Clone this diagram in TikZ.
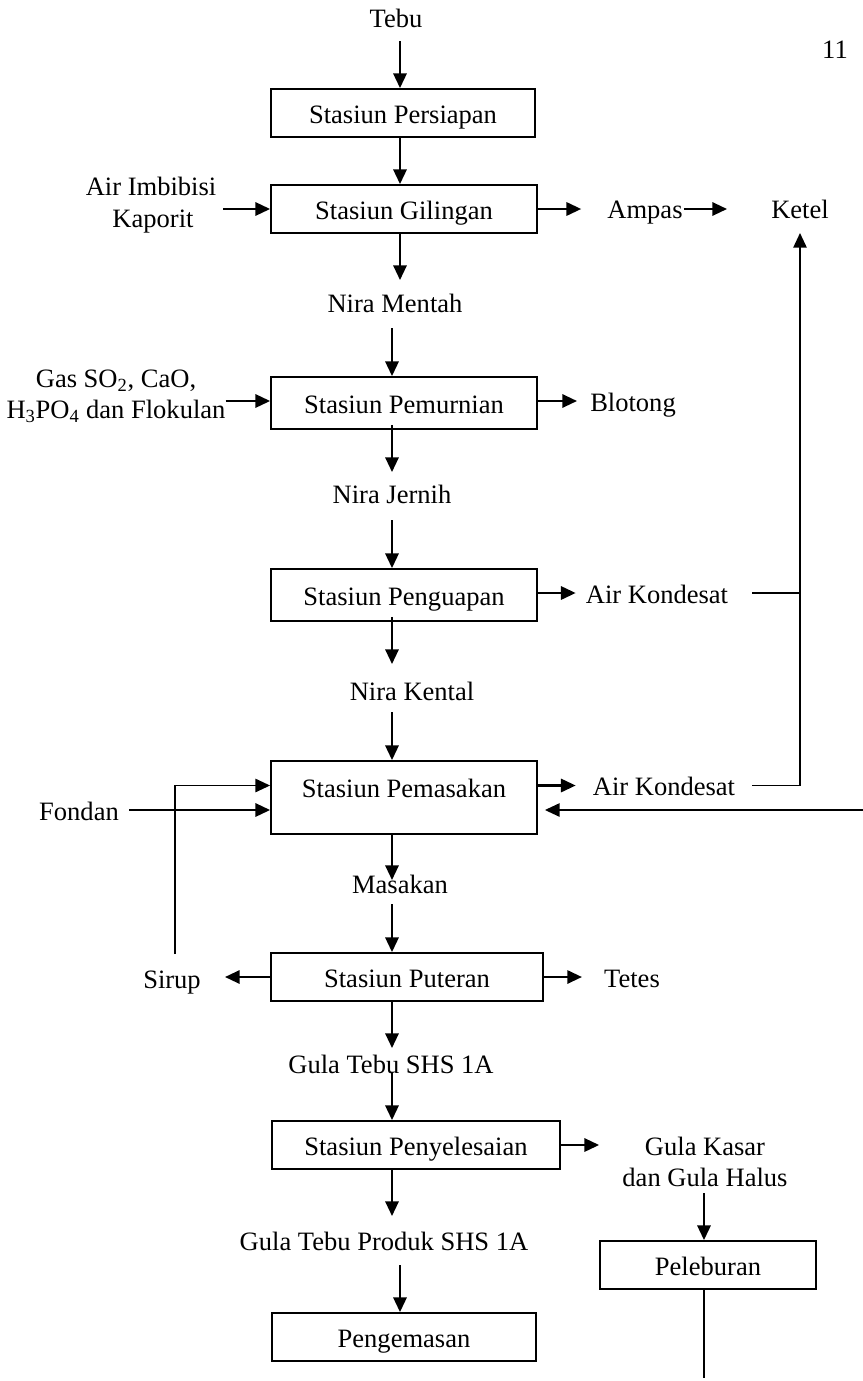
\documentclass[tikz,border=0pt]{standalone}
\usepackage{fontspec}
\setmainfont{Liberation Serif}
\usetikzlibrary{arrows.meta,calc}
\begin{document}
\begin{tikzpicture}[x=0.75pt,y=-0.75pt,
  font=\fontsize{19.9}{24}\selectfont,
  box/.style={draw,line width=1.4pt,inner sep=0pt,text height=15pt,text depth=0pt},
  lbl/.style={inner sep=0pt,anchor=base},
  arr/.style={line width=1.6pt,-{Triangle[length=11pt,width=10pt]}},
  thinarr/.style={line width=1.2pt,-{Triangle[length=11pt,width=10pt]}},
  ln/.style={line width=1.2pt}]
\useasboundingbox (0,0) rectangle (863,1381);
% boxes
\node[box,minimum width=198pt,minimum height=36pt] (persiapan) at (403,113) {Stasiun Persiapan};
\node[box,minimum width=199.5pt,minimum height=36pt] (gilingan) at (404,209) {Stasiun Gilingan};
\node[box,minimum width=199.5pt,minimum height=39pt] (pemurnian) at (404,403) {Stasiun Pemurnian};
\node[box,minimum width=199.5pt,minimum height=39pt] (penguapan) at (404,595) {Stasiun Penguapan};
\node[box,minimum width=199.5pt,minimum height=54.75pt,text height=15pt,text depth=15pt] (pemasakan) at (404,797.5) {Stasiun Pemasakan};
\node[box,minimum width=204pt,minimum height=36pt] (puteran) at (407,977) {Stasiun Puteran};
\node[box,minimum width=216pt,minimum height=36pt] (penyelesaian) at (416,1145) {Stasiun Penyelesaian};
\node[box,minimum width=162pt,minimum height=36pt] (peleburan) at (708,1265) {Peleburan};
\node[box,minimum width=198pt,minimum height=36pt] (pengemasan) at (404,1337) {Pengemasan};
% labels
\node[lbl] (tebu) at (396,27) {Tebu};
\node[lbl] (page) at (835,58) {11};
\node[lbl] (imb1) at (151,195) {Air Imbibisi};
\node[lbl] (imb2) at (153,227) {Kaporit};
\node[lbl] (ampas) at (645,218) {Ampas};
\node[lbl] (ketel) at (800,218) {Ketel};
\node[lbl] (nmentah) at (395,312) {Nira Mentah};
\node[lbl] (gas1) at (116,387) {Gas SO\textsubscript{2}, CaO,};
\node[lbl] (gas2) at (116,418) {H\textsubscript{3}PO\textsubscript{4} dan Flokulan};
\node[lbl] (blotong) at (633,411) {Blotong};
\node[lbl] (njernih) at (392,503) {Nira Jernih};
\node[lbl] (kond1) at (657,603) {Air Kondesat};
\node[lbl] (nkental) at (412,700) {Nira Kental};
\node[lbl] (kond2) at (664,795) {Air Kondesat};
\node[lbl] (fondan) at (79,820) {Fondan};
\node[lbl] (masakan) at (400,893) {Masakan};
\node[lbl] (sirup) at (172,988) {Sirup};
\node[lbl] (tetes) at (632,987) {Tetes};
\node[lbl] (gtebu) at (391,1073) {Gula Tebu SHS 1A};
\node[lbl] (gkasar1) at (705,1155) {Gula Kasar};
\node[lbl] (gkasar2) at (705,1186) {dan Gula Halus};
\node[lbl] (produk) at (384,1250) {Gula Tebu Produk SHS 1A};
% columns
\coordinate (cA) at (400,0);
\coordinate (cB) at (392,0);
\coordinate (cK) at (800,0);
\coordinate (cP) at (704,0);
\coordinate (cS) at (175,0);
\coordinate (k2) at ($(pemasakan.east -| cK)+(0,-12)$);
\coordinate (rr) at (863,810);
\coordinate (bot) at (704,1378);
% connectors
\draw[arr] ($(tebu.base -| cA)+(0,14)$) -- (persiapan.north -| cA);
\draw[arr] (persiapan.south -| cA) -- (gilingan.north -| cA);
\draw[arr] ($(imb1.east |- gilingan.west)+(7,0)$) -- (gilingan.west);
\draw[arr] (gilingan.east) -- ($(ampas.west |- gilingan.east)+(-26,0)$);
\draw[arr] ($(ampas.east |- gilingan.east)+(1,0)$) -- ($(ketel.west |- gilingan.east)+(-44,0)$);
\draw[arr] (gilingan.south -| cA) -- ($(nmentah.base -| cA)+(0,-32)$);
\draw[arr] ($(nmentah.base -| cB)+(0,16)$) -- (pemurnian.north -| cB);
\draw[arr] ($(gas2.east |- pemurnian.west)+(0,-2)$) -- ($(pemurnian.west)+(0,-2)$);
\draw[arr] ($(pemurnian.east)+(0,-2)$) -- ($(blotong.west |- pemurnian.east)+(-13,-2)$);
\draw[arr] ($(pemurnian.south -| cB)+(0,-5)$) -- ($(njernih.base -| cB)+(0,-31)$);
\draw[arr] ($(njernih.base -| cB)+(0,17)$) -- (penguapan.north -| cB);
\draw[arr] ($(penguapan.east)+(0,-2)$) -- ($(kond1.west |- penguapan.east)+(-10,-2)$);
\draw[ln] ($(kond1.east |- penguapan.east)+(24,-2)$) -- ($(cK |- penguapan.east)+(0,-2)$);
\draw[thinarr] ($(kond2.east |- k2)+(17,0)$) -- (k2) -- ($(ketel.base)+(0,15)$);
\draw[arr] ($(penguapan.south -| cB)+(0,-5)$) -- ($(nkental.base -| cB)+(0,-36)$);
\draw[arr] ($(nkental.base -| cB)+(0,12)$) -- (pemasakan.north -| cB);
\draw[arr] ($(pemasakan.east)+(0,-12)$) -- ($(kond2.west |- k2)+(-17,0)$);
\draw[thinarr] (rr) -- ($(pemasakan.east)+(7,12.5)$);
\draw[arr] ($(fondan.east |- rr)+(10,0)$) -- ($(pemasakan.west)+(0,12.5)$);
\draw[thinarr] ($(sirup.base -| cS)+(0,-34)$) -- (cS |- k2) -- ($(pemasakan.west)+(0,-12)$);
\draw[arr] (pemasakan.south -| cB) -- ($(masakan.base -| cB)+(0,-13)$);
\draw[arr] ($(masakan.base -| cB)+(0,11)$) -- (puteran.north -| cB);
\draw[arr] (puteran.west) -- ($(sirup.east |- puteran.west)+(24,0)$);
\draw[arr] (puteran.east) -- ($(tetes.west |- puteran.east)+(-22,0)$);
\draw[arr] (puteran.south -| cB) -- ($(gtebu.base -| cB)+(0,-25)$);
\draw[arr] (gtebu.base -| cB) -- (penyelesaian.north -| cB);
\draw[arr] (penyelesaian.east) -- (peleburan.west |- penyelesaian.east);
\draw[arr] ($(gkasar2.base -| cP)+(0,7)$) -- (peleburan.north -| cP);
\draw[ln] (peleburan.south -| cP) -- (bot);
\draw[arr] (penyelesaian.south -| cB) -- ($(produk.base -| cB)+(0,-34)$);
\draw[arr] ($(produk.base -| cA)+(0,15)$) -- (pengemasan.north -| cA);
\end{tikzpicture}
\end{document}
